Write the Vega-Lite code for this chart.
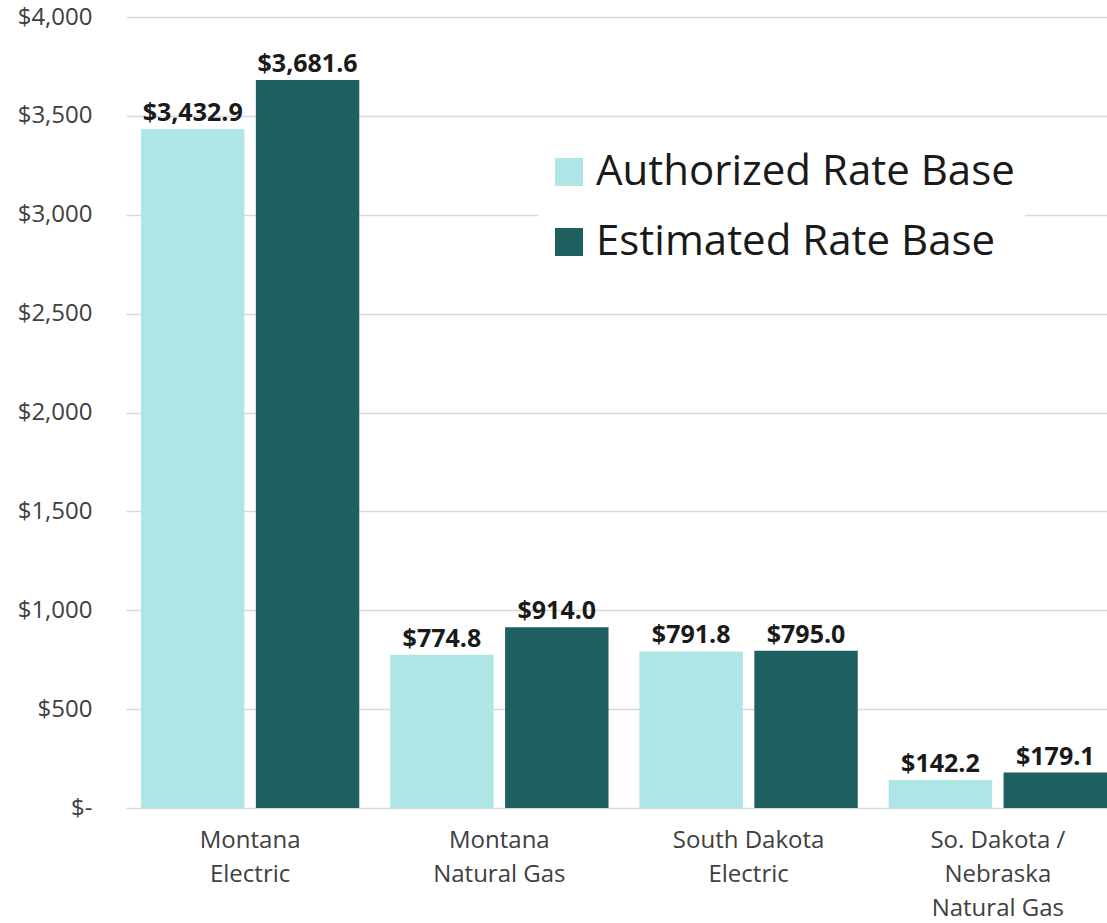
{
  "$schema": "https://vega.github.io/schema/vega-lite/v6.json",
  "width": 981,
  "height": 791,
  "autosize": {"type": "none"},
  "padding": {"left": 126, "top": 17, "right": 0, "bottom": 115},
  "background": "white",
  "config": {
    "view": {"stroke": null},
    "font": "Open Sans"
  },
  "data": {
    "values": [
      {"category": "Montana|Electric", "series": "Authorized Rate Base", "value": 3432.9},
      {"category": "Montana|Electric", "series": "Estimated Rate Base", "value": 3681.6},
      {"category": "Montana|Natural Gas", "series": "Authorized Rate Base", "value": 774.8},
      {"category": "Montana|Natural Gas", "series": "Estimated Rate Base", "value": 914.0},
      {"category": "South Dakota|Electric", "series": "Authorized Rate Base", "value": 791.8},
      {"category": "South Dakota|Electric", "series": "Estimated Rate Base", "value": 795.0},
      {"category": "So. Dakota /|Nebraska|Natural Gas", "series": "Authorized Rate Base", "value": 142.2},
      {"category": "So. Dakota /|Nebraska|Natural Gas", "series": "Estimated Rate Base", "value": 179.1}
    ]
  },
  "encoding": {
    "x": {
      "field": "category",
      "type": "nominal",
      "sort": null,
      "scale": {"paddingInner": 0.124, "paddingOuter": 0.03, "align": 1},
      "axis": {
        "title": null,
        "labelAngle": 0,
        "labelExpr": "split(datum.label, '|')",
        "labelFont": "Open Sans",
        "labelFontSize": 24,
        "labelColor": "#404040",
        "labelLineHeight": 34,
        "labelPadding": 20,
        "labelLimit": 0,
        "ticks": false,
        "domain": false,
        "grid": false
      }
    },
    "xOffset": {
      "field": "series",
      "type": "nominal",
      "sort": ["Authorized Rate Base", "Estimated Rate Base"],
      "scale": {"paddingInner": 0.1}
    },
    "y": {
      "field": "value",
      "type": "quantitative",
      "scale": {"domain": [0, 4000]},
      "axis": {
        "title": null,
        "values": [0, 500, 1000, 1500, 2000, 2500, 3000, 3500, 4000],
        "labelExpr": "datum.value == 0 ? '$-' : '$' + format(datum.value, ',')",
        "labelFont": "Open Sans",
        "labelFontSize": 24,
        "labelColor": "#404040",
        "labelPadding": 34,
        "ticks": false,
        "domain": false,
        "grid": true,
        "gridColor": "#D9D9D9",
        "gridWidth": 1.5
      }
    }
  },
  "layer": [
    {
      "mark": {"type": "bar"},
      "encoding": {
        "color": {
          "field": "series",
          "type": "nominal",
          "sort": ["Authorized Rate Base", "Estimated Rate Base"],
          "scale": {"range": ["#AEE6E6", "#1E5F5F"]},
          "legend": {
            "title": null,
            "orient": "none",
            "legendX": 412,
            "legendY": 124,
            "fillColor": "white",
            "padding": 10,
            "symbolType": "square",
            "symbolSize": 784,
            "symbolStrokeWidth": 0,
            "labelFont": "Open Sans",
            "labelFontSize": 42,
            "labelColor": "#1a1a1a",
            "labelOffset": 6,
            "labelLimit": 0,
            "rowPadding": 28
          }
        }
      }
    },
    {
      "mark": {"type": "text", "baseline": "bottom", "dy": -3, "fontWeight": "bold", "fontSize": 25, "font": "Open Sans", "color": "#1a1a1a"},
      "encoding": {
        "text": {"field": "value", "type": "quantitative", "format": "$,.1f"}
      }
    }
  ]
}
